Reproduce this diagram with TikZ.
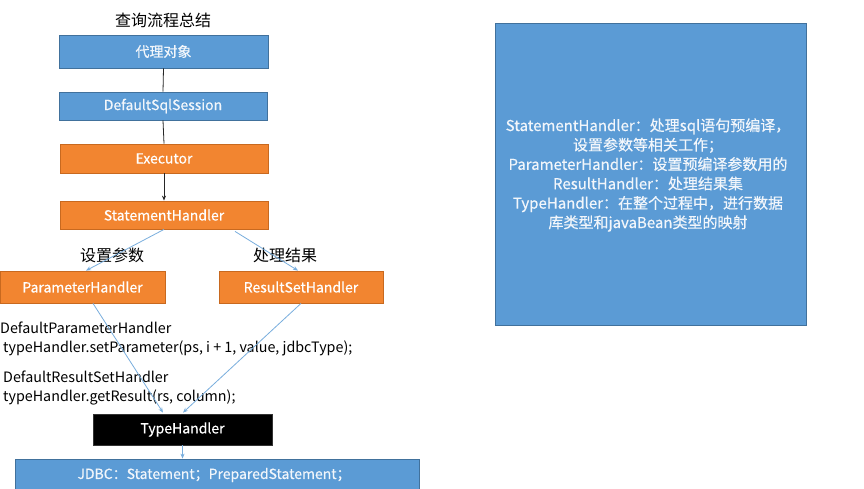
\documentclass[tikz,border=0pt]{standalone}
\usepackage{fontspec}
\setmainfont{Noto Sans CJK SC}
\newfontfamily\boxfont{Noto Sans CJK SC}[FakeBold=0.4]
\usetikzlibrary{arrows.meta}
\definecolor{boxblue}{HTML}{5B9BD5}
\definecolor{boxblueline}{HTML}{41719C}
\definecolor{boxorange}{HTML}{F28530}
\definecolor{boxorangeline}{HTML}{C8691F}
\definecolor{linkblue}{HTML}{79AEDD}
\definecolor{boxtext}{HTML}{F2F6FB}
\tikzset{
  bluebox/.style={draw=boxblueline, fill=boxblue, text=boxtext, line width=0.8pt, inner sep=0pt, font=\boxfont\fontsize{14}{16}\selectfont},
  orangebox/.style={draw=boxorangeline, fill=boxorange, text=white, line width=0.8pt, inner sep=0pt, font=\boxfont\fontsize{14}{16}\selectfont},
  blackbox/.style={draw=black!80, fill=black, text=white, line width=0.8pt, inner sep=0pt, font=\boxfont\fontsize{14}{16}\selectfont},
  plain/.style={inner sep=0pt, text=black, font=\fontsize{14.3}{18}\selectfont},
  cjklabel/.style={inner sep=0pt, text=black, font=\fontsize{16}{18}\selectfont},
  darklink/.style={draw=black!85, line width=0.8pt},
  bluelink/.style={draw=linkblue, line width=0.8pt, -{Stealth[length=5pt,width=4pt]}},
}
\begin{document}
\begin{tikzpicture}[x=1pt,y=-1pt]
\useasboundingbox (0,0) rectangle (864,488);
\fill[white] (0,0) rectangle (864,488);
\begin{scope}
\clip (0,0) rectangle (864,488);
% title
\node[cjklabel] (title) at (163,20) {查询流程总结};
% main chain
\node[bluebox, minimum width=209pt, minimum height=33pt] (dl) at (163.5,51.5) {代理对象};
\node[bluebox, minimum width=208pt, minimum height=28pt] (ds) at (163,106) {DefaultSqlSession};
\node[orangebox, minimum width=208pt, minimum height=29pt] (ex) at (164,158.5) {Executor};
\node[orangebox, minimum width=208pt, minimum height=28pt] (sh) at (164,215) {StatementHandler};
\node[orangebox, minimum width=165pt, minimum height=32pt] (ph) at (82.5,287) {ParameterHandler};
\node[orangebox, minimum width=164pt, minimum height=32pt] (rs) at (301,287) {ResultSetHandler};
\node[blackbox, minimum width=179pt, minimum height=31pt] (th) at (182.5,429.5) {TypeHandler};
\node[bluebox, minimum width=404pt, minimum height=33pt] (jdbc) at (217,475.5) {};
\node[inner sep=0pt, text=boxtext, font=\boxfont\fontsize{14}{16}\selectfont] (jdbct) at (214,475) {JDBC：Statement；PreparedStatement；};
% labels
\node[cjklabel] (lp) at (112,255) {设置参数};
\node[cjklabel] (lr) at (285,255) {处理结果};
\node[plain, anchor=west] (t1) at (0,328) {DefaultParameterHandler};
\node[plain, anchor=west] (t2) at (3,348) {typeHandler.setParameter(ps, i + 1, value, jdbcType);};
\node[plain, anchor=west] (t3) at (3,377) {DefaultResultSetHandler};
\node[plain, anchor=west] (t4) at (3,397) {typeHandler.getResult(rs, column);};
% right box
\node[draw=boxblueline, fill=boxblue, line width=0.8pt, minimum width=311pt, minimum height=302pt, inner sep=0pt] (info) at (650.5,174) {};
\node[inner sep=0pt, text=boxtext, align=center, font=\boxfont\fontsize{15}{19.4}\selectfont] (infot) at (648,175) {StatementHandler：处理sql语句预编译，\\设置参数等相关工作；\\ParameterHandler：设置预编译参数用的\\ResultHandler：处理结果集\\TypeHandler：在整个过程中，进行数据\\库类型和javaBean类型的映射};
% connectors
\draw[darklink] (dl.south) -- (ds.north);
\draw[darklink] (ds.south) -- (ex.north);
\draw[darklink, -{Stealth[length=5pt,width=4pt]}] (ex.south) -- (sh.north);
\draw[bluelink] (sh.south) -- ([xshift=3.5pt]ph.north);
\draw[bluelink] ([xshift=71pt,yshift=-2pt]sh.south) -- ([xshift=-3pt]rs.north);
\draw[bluelink] ([xshift=10.5pt]ph.south) -- ([xshift=-19.5pt,yshift=1pt]th.north);
\draw[bluelink] (rs.south) -- ([xshift=0.5pt,yshift=1pt]th.north);
\draw[bluelink] (th.south) -- (th.south |- jdbc.north);
\end{scope}
\end{tikzpicture}
\end{document}
